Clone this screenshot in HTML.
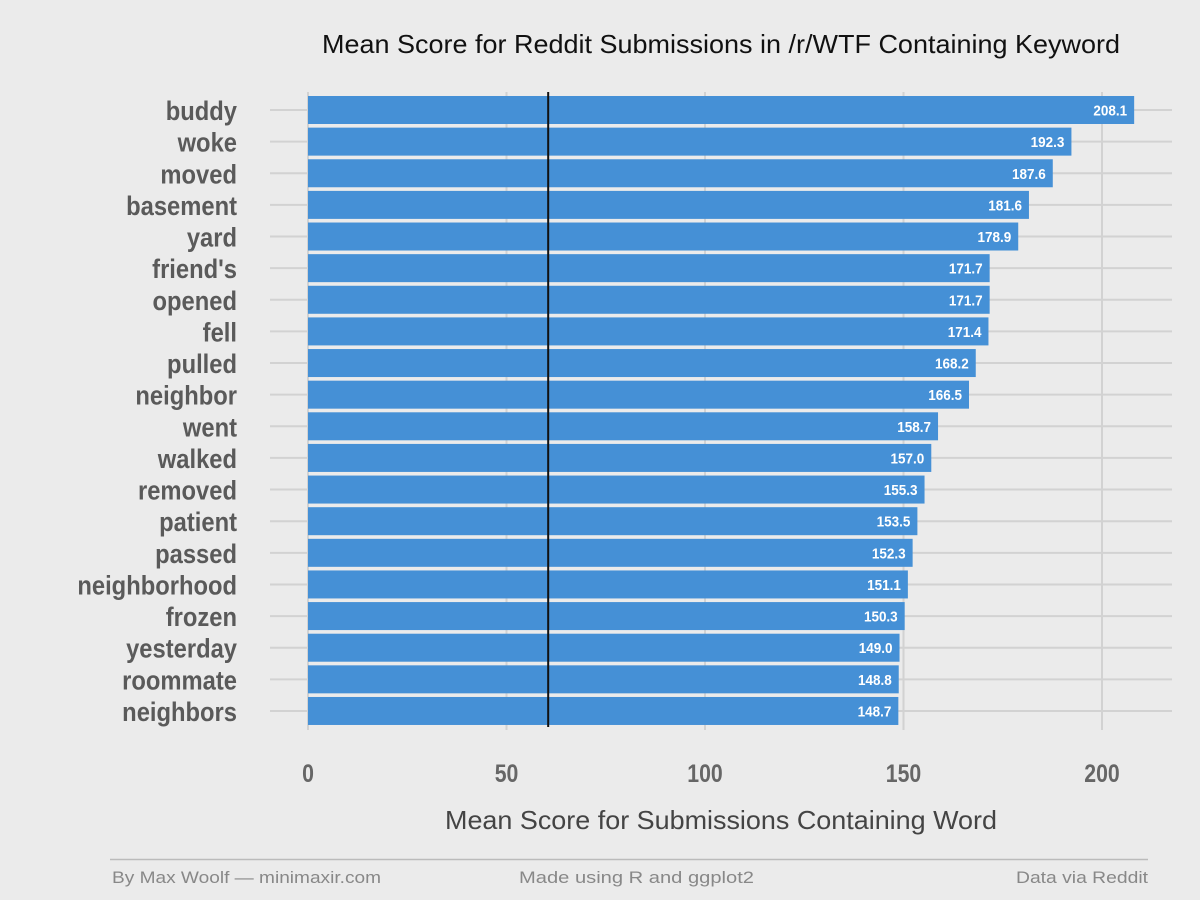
<!DOCTYPE html>
<html><head><meta charset="utf-8">
<style>
html,body{margin:0;padding:0;background:#ebebeb;}
svg{display:block;}
.cat{font-family:"Liberation Sans",sans-serif;font-weight:bold;font-size:27px;fill:#5a5a5a;}
.tick{font-family:"Liberation Sans",sans-serif;font-weight:bold;font-size:25px;fill:#666;}
.val{font-family:"Liberation Sans",sans-serif;font-weight:bold;font-size:15px;fill:#fff;}
.title{font-family:"Liberation Sans",sans-serif;font-size:26px;fill:#111;}
.axt{font-family:"Liberation Sans",sans-serif;font-size:26px;fill:#444;}
.foot{font-family:"Liberation Sans",sans-serif;font-size:17px;fill:#888;}
</style></head>
<body>
<svg id="chart" width="1200" height="900">
<rect width="1200" height="900" fill="#ebebeb"/>
<text class="title" x="322" y="53" textLength="798" lengthAdjust="spacingAndGlyphs">Mean Score for Reddit Submissions in /r/WTF Containing Keyword</text>
<text class="axt" x="445" y="829" textLength="552" lengthAdjust="spacingAndGlyphs">Mean Score for Submissions Containing Word</text>
<line x1="110" x2="1148" y1="859.5" y2="859.5" stroke="#bbb" stroke-width="1.5"/>
<text class="foot" x="112" y="883" textLength="269" lengthAdjust="spacingAndGlyphs">By Max Woolf — minimaxir.com</text>
<text class="foot" x="519" y="883" textLength="235" lengthAdjust="spacingAndGlyphs">Made using R and ggplot2</text>
<text class="foot" x="1016" y="883" textLength="132" lengthAdjust="spacingAndGlyphs">Data via Reddit</text>
<g id="plot"></g>
</svg>
<script>
const categories=["buddy","woke","moved","basement","yard","friend's","opened","fell","pulled","neighbor","went","walked","removed","patient","passed","neighborhood","frozen","yesterday","roommate","neighbors"];
const values=[208.1,192.3,187.6,181.6,178.9,171.7,171.7,171.4,168.2,166.5,158.7,157.0,155.3,153.5,152.3,151.1,150.3,149.0,148.8,148.7];
const xTicks=[0,50,100,150,200];
const meanLine=60.5;
const NS="http://www.w3.org/2000/svg";
const g=document.getElementById('plot');
const x=v=>308+v*3.97;
const y=i=>110+i*31.63;
const bh=28;
function mk(t,a){const e=document.createElementNS(NS,t);for(const k in a)e.setAttribute(k,a[k]);g.appendChild(e);return e;}
categories.forEach((c,i)=>{
  const l=mk('line',{x1:270,x2:1172,y1:y(i),y2:y(i),stroke:'#d2d2d2','stroke-width':2});
  
  
});
xTicks.forEach(t=>{
  const l=mk('line',{x1:x(t),x2:x(t),y1:92,y2:730,stroke:'#d2d2d2','stroke-width':2});
  
  
  const tx=mk('text',{x:0,y:0,'text-anchor':'middle',class:'tick',transform:'translate('+x(t)+',782) scale(0.85,1)'});
  tx.textContent=t;
  
  
});
categories.forEach((c,i)=>{
  const r=mk('rect',{x:x(0),y:y(i)-bh/2,width:x(values[i])-x(0),height:bh,fill:'#4590d6'});
  
  
  const v=mk('text',{x:0,y:0,'text-anchor':'end',class:'val',transform:'translate('+(x(values[i])-7)+','+(y(i)+5.5)+') scale(0.9,1)'});
  v.textContent=values[i].toFixed(1);
  
  
  const lb=mk('text',{x:0,y:0,'text-anchor':'end',class:'cat',transform:'translate(237,'+(y(i)+10)+') scale(0.88,1)'});
  lb.textContent=c;
  
  
});
const ml=mk('line',{x1:x(meanLine),x2:x(meanLine),y1:92,y2:727,stroke:'#111','stroke-width':2});


</script>
</body></html>
